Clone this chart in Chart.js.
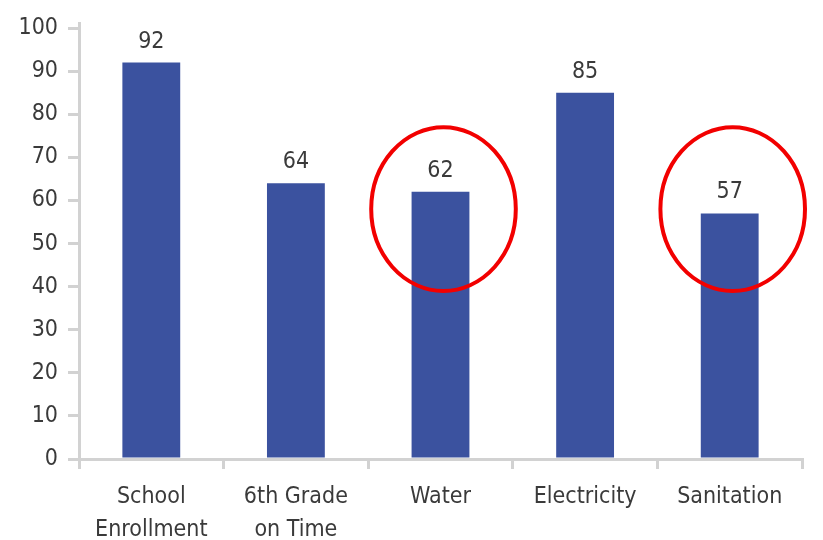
<!DOCTYPE html>
<html>
<head>
<meta charset="utf-8">
<script src="https://cdn.jsdelivr.net/npm/chart.js@4"></script>
<style>
  html, body { margin: 0; padding: 0; background: #fff; }
  #wrap { width: 823px; height: 540px; }
</style>
</head>
<body>
<div id="wrap"><canvas id="chart"></canvas></div>
<script>
const categories = [['School', 'Enrollment'], ['6th Grade', 'on Time'], 'Water', 'Electricity', 'Sanitation'];
const values = [92, 64, 62, 85, 57];
const yTicks = [0, 10, 20, 30, 40, 50, 60, 70, 80, 90, 100];
const circled = [2, 4]; // Water, Sanitation

const FONT = '"Liberation Sans Narrow", "DejaVu Sans Condensed", "Arial Narrow", sans-serif';
const TEXT = '#3a3a3a';
const AXIS = '#d2d2d2';

// value labels above each bar
const barLabels = {
  id: 'barLabels',
  afterDatasetsDraw(chart) {
    const ctx = chart.ctx;
    const meta = chart.getDatasetMeta(0);
    ctx.save();
    ctx.font = '23px ' + FONT;
    ctx.fillStyle = TEXT;
    ctx.textAlign = 'center';
    ctx.textBaseline = 'middle';
    meta.data.forEach((bar, i) => {
      ctx.fillText(String(values[i]), bar.x, bar.y - 21);
    });
    ctx.restore();
  }
};

// red highlight ellipses drawn round selected bars
const highlight = {
  id: 'highlight',
  afterDatasetsDraw(chart) {
    const ctx = chart.ctx;
    const meta = chart.getDatasetMeta(0);
    const y = chart.scales.y;
    const cy = y.getPixelForValue(58);
    const ry = Math.abs(y.getPixelForValue(58) - y.getPixelForValue(77));
    const rx = chart.scales.x.width / categories.length / 2;
    ctx.save();
    ctx.strokeStyle = '#f20000';
    ctx.lineWidth = 4;
    circled.forEach(i => {
      const bar = meta.data[i];
      ctx.beginPath();
      ctx.ellipse(bar.x + 3, cy, rx, ry, 0, 0, Math.PI * 2);
      ctx.stroke();
    });
    ctx.restore();
  }
};

const ctx = document.getElementById('chart').getContext('2d');
new Chart(ctx, {
  type: 'bar',
  data: {
    labels: categories,
    datasets: [{
      data: values,
      backgroundColor: '#3b529f',
      categoryPercentage: 1,
      barPercentage: 0.4
    }]
  },
  options: {
    responsive: true,
    maintainAspectRatio: false,
    animation: false,
    layout: { padding: { top: 8, right: 21, left: 0, bottom: 0 } },
    plugins: {
      legend: { display: false },
      tooltip: { enabled: false }
    },
    scales: {
      x: {
        offset: true,
        border: { color: AXIS, width: 3 },
        grid: {
          offset: true,
          drawOnChartArea: false,
          drawTicks: true,
          tickLength: 10,
          color: AXIS,
          lineWidth: 3
        },
        ticks: {
          color: TEXT,
          padding: 11,
          maxRotation: 0,
          autoSkip: false,
          font: { family: FONT, size: 23, lineHeight: 1.45 }
        },
        afterFit(scale) { scale.height = 81; }
      },
      y: {
        min: 0,
        max: 101,
        border: { color: AXIS, width: 3 },
        grid: {
          drawOnChartArea: false,
          drawTicks: true,
          tickLength: 11,
          color: AXIS,
          lineWidth: 3
        },
        afterBuildTicks(scale) {
          scale.ticks = yTicks.map(v => ({ value: v }));
        },
        ticks: {
          color: TEXT,
          padding: 10,
          font: { family: FONT, size: 23 }
        },
        afterFit(scale) { scale.width = 79; }
      }
    }
  },
  plugins: [barLabels, highlight]
});
</script>
</body>
</html>
